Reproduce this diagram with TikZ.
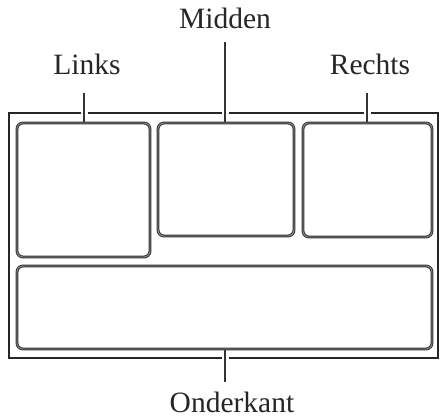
\documentclass[tikz,border=0pt]{standalone}
\usepackage{fontspec}
\setmainfont{Liberation Serif}
\begin{document}
\begin{tikzpicture}[x=1pt,y=-1pt,
  lbl/.style={font=\fontsize{29.5}{33}\selectfont, anchor=base, inner sep=0pt, text=black!85},
  panel/.style={draw=black!80, line width=1pt, double=black!45, double distance=0.9pt, rounded corners=6pt},
  frame/.style={draw=black!85, line width=2pt},
  leader/.style={draw=black!80, line width=1.6pt, preaction={draw=white, line width=7pt}}]
\useasboundingbox (0,0) rectangle (445,420);
\draw[frame] (8.5,113.5) rectangle (438,358);
% labels
\node[lbl] (links) at (87,75) {Links};
\node[lbl] (midden) at (225,29) {Midden};
\node[lbl] (rechts) at (370,75) {Rechts};
\node[lbl] (onder) at (232,412) {Onderkant};
% anchor points
\coordinate (l1) at (84,93); \coordinate (l2) at (84,123);
\coordinate (m1) at (225,42); \coordinate (m2) at (225,123);
\coordinate (r1) at (367,93); \coordinate (r2) at (367,123);
\coordinate (o1) at (225,349); \coordinate (o2) at (225,382);
\draw[leader] (l1) -- (l2);
\draw[leader] (m1) -- (m2);
\draw[leader] (r1) -- (r2);
\draw[leader] (o1) -- (o2);
% panels
\draw[panel] (17,123) rectangle (150,257);
\draw[panel] (158,123) rectangle (294,236);
\draw[panel] (303,123) rectangle (432,237);
\draw[panel] (17,266) rectangle (432,349);
\end{tikzpicture}
\end{document}
